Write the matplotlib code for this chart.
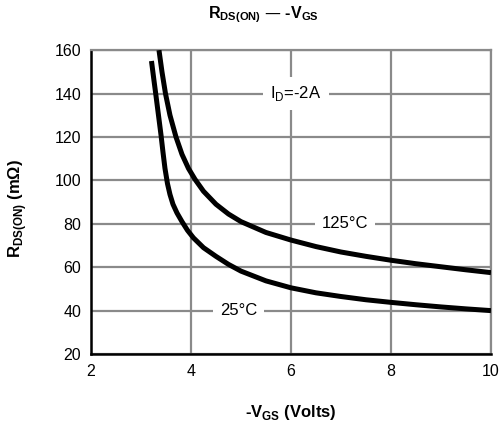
import matplotlib
matplotlib.use('Agg')
import matplotlib.pyplot as plt

plt.rcParams['font.family'] = ['Liberation Sans', 'DejaVu Sans']

# 读图得到的数据点
vgs_25 = [3.21, 3.26, 3.30, 3.35, 3.40, 3.44, 3.48, 3.53, 3.58, 3.64, 3.72, 3.82, 3.93, 4.05,
          4.25, 4.5, 4.75, 5.0, 5.5, 6.0, 6.5, 7.0, 7.5, 8.0, 8.5, 9.0, 9.5, 10.0]
rds_25 = [155, 146, 139, 130, 121, 113, 105.5, 98.5, 93.5, 89, 85, 81, 77, 73.5,
          69, 65, 61.3, 58.2, 53.7, 50.5, 48.2, 46.5, 45, 43.8, 42.7, 41.7, 40.8, 40]

vgs_125 = [3.36, 3.42, 3.49, 3.58, 3.70, 3.82, 3.95, 4.08, 4.25, 4.5, 4.75, 5.0, 5.5,
           6.0, 6.5, 7.0, 7.5, 8.0, 8.5, 9.0, 9.5, 10.0]
rds_125 = [160, 150, 140, 130, 120, 112, 105.5, 100.5, 95, 89, 84.5, 81, 76,
           72.5, 69.5, 67, 65, 63.2, 61.6, 60.2, 58.8, 57.5]

xticks = [2, 4, 6, 8, 10]
yticks = [20, 40, 60, 80, 100, 120, 140, 160]

fig = plt.figure(figsize=(5.01, 4.25), dpi=100)
ax = fig.add_axes([0.1816, 0.167, 0.7984, 0.715])

ax.plot(vgs_25, rds_25, color='black', lw=3.6, solid_capstyle='butt', solid_joinstyle='round', zorder=4)
ax.plot(vgs_125, rds_125, color='black', lw=3.6, solid_capstyle='butt', solid_joinstyle='round', zorder=4)

ax.set_xlim(2, 10)
ax.set_ylim(20, 160)
ax.set_xticks(xticks)
ax.set_yticks(yticks)
ax.grid(True, color='#8a8a8a', lw=1.6)
ax.set_axisbelow(True)
ax.tick_params(length=0, labelsize=11.5, pad=7)

for side in ['top', 'right']:
    ax.spines[side].set_color('#8a8a8a')
    ax.spines[side].set_linewidth(1.6)
for side in ['left', 'bottom']:
    ax.spines[side].set_color('black')
    ax.spines[side].set_linewidth(1.8)

box = dict(facecolor='white', edgecolor='none', pad=5)
ax.text(6.1, 140, r'I$_\mathregular{D}$=-2A', ha='center', va='center', fontsize=12, bbox=box, zorder=3)
ax.text(7.08, 80, '125°C', ha='center', va='center', fontsize=12, bbox=box, zorder=3)
ax.text(4.95, 40, '25°C', ha='center', va='center', fontsize=12, bbox=box, zorder=3)

ax.set_xlabel(r'-V$_\mathregular{GS}$ (Volts)', fontsize=12, fontweight='bold', va='center')
ax.xaxis.set_label_coords(0.5, -0.194)
ax.set_ylabel(r'R$_\mathregular{DS(ON)}$ (m$\mathregular{\Omega}$)', fontsize=12, fontweight='bold',
              va='center', ha='center')
ax.yaxis.set_label_coords(-0.1825, 0.48)
fig.text(0.525, 0.965, r'R$_\mathregular{DS(ON)}$ — -V$_\mathregular{GS}$', ha='center', va='center',
         fontsize=11.5, fontweight='bold')

fig.savefig('out.png', dpi=100)
